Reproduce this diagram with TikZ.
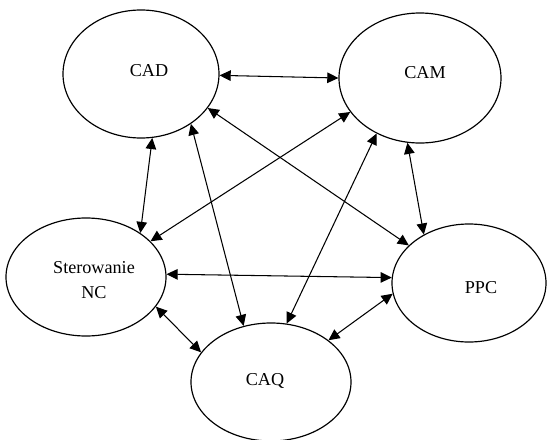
\documentclass[tikz,border=0pt]{standalone}
\usepackage{fontspec}
\setmainfont{Liberation Serif}
\usetikzlibrary{shapes.geometric,arrows.meta}
\begin{document}
\begin{tikzpicture}[x=0.03cm,y=-0.03cm,
  ell/.style={draw,ellipse,line width=1pt,inner sep=0pt},
  lbl/.style={font=\fontsize{15.5}{21.5}\selectfont,align=center,inner sep=0pt},
  link/.style={line width=0.9pt,{Triangle[length=9.5pt,width=9pt]}-{Triangle[length=9.5pt,width=9pt]}}]
\useasboundingbox (0,0) rectangle (547,440);
\node[ell,minimum width=4.68cm,minimum height=3.84cm] (CAD) at (141,74) {};
\node[ell,minimum width=4.86cm,minimum height=3.9cm] (CAM) at (420,78) {};
\node[ell,minimum width=4.8cm,minimum height=3.54cm] (NC) at (86,277) {};
\node[ell,minimum width=4.62cm,minimum height=3.54cm] (PPC) at (469,283) {};
\node[ell,minimum width=4.8cm,minimum height=3.54cm] (CAQ) at (271,382) {};
\node[lbl] (tCAD) at (149,71) {CAD};
\node[lbl] (tCAM) at (425,73) {CAM};
\node[lbl] (tNC) at (94,280) {Sterowanie\\NC};
\node[lbl] (tPPC) at (481,288) {PPC};
\node[lbl] (tCAQ) at (265,381) {CAQ};
\draw[link] (CAD.-1) -- (CAM.180);
\draw[link] (CAD.-80.5) -- (NC.39);
\draw[link] (CAD.-45.5) -- (CAQ.116.2);
\draw[link] (CAD.-27.5) -- (PPC.148.2);
\draw[link] (CAM.206) -- (NC.29.2);
\draw[link] (CAM.232) -- (CAQ.75.3);
\draw[link] (CAM.259) -- (PPC.133.3);
\draw[link] (NC.2) -- (PPC.176.3);
\draw[link] (NC.-23.2) -- (CAQ.157.8);
\draw[link] (PPC.188.9) -- (CAQ.36.2);
\end{tikzpicture}
\end{document}
